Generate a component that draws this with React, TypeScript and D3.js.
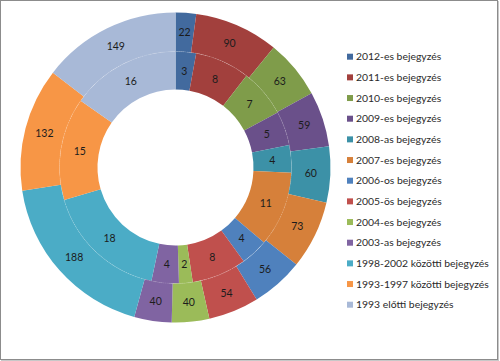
import React from 'react';
import * as d3 from 'd3';

const categories = [
  '2012-es bejegyzés',
  '2011-es bejegyzés',
  '2010-es bejegyzés',
  '2009-es bejegyzés',
  '2008-as bejegyzés',
  '2007-es bejegyzés',
  '2006-os bejegyzés',
  '2005-ös bejegyzés',
  '2004-es bejegyzés',
  '2003-as bejegyzés',
  '1998-2002 közötti bejegyzés',
  '1993-1997 közötti bejegyzés',
  '1993 előtti bejegyzés',
];
const innerValues = [3, 8, 7, 5, 4, 11, 4, 8, 2, 4, 18, 15, 16];
const outerValues = [22, 90, 63, 59, 60, 73, 56, 54, 40, 40, 188, 132, 149];
const colors = [
  '#426a9e', '#a2403d', '#7f9c4a', '#6a508a', '#3c91a7', '#d6803a',
  '#4f81bd', '#c0504d', '#9bbb59', '#8064a2', '#4bacc6', '#f79646', '#a8b9d7',
];

const W = 500;
const H = 361;
const cx = 175.5;
const cy = 167.5;
const r0 = 78;
const r1 = 116;
const r2 = 155;

const App = () => {
  const pie = d3.pie<number>().sort(null).value(d => d);
  const innerArcs = pie(innerValues);
  const outerArcs = pie(outerValues);
  const innerArc = d3.arc<d3.PieArcDatum<number>>().innerRadius(r0).outerRadius(r1);
  const outerArc = d3.arc<d3.PieArcDatum<number>>().innerRadius(r1).outerRadius(r2);

  // legend rows, evenly spaced
  const legendY = d3.scalePoint<string>().domain(categories).range([56.7, 304.7]);

  return (
    <div style={{ position: 'absolute', left: 0, top: 0 }}>
      <svg width={W} height={H} style={{ display: 'block' }}>
        <rect x={0} y={0} width={W} height={H} fill="#ffffff" />
        <rect x={0.5} y={0.5} width={497} height={359} fill="none" stroke="#8c8c8c" strokeWidth={1} />
        <line x1={498.5} y1={1} x2={498.5} y2={361} stroke="#c8c8c8" />
        <line x1={1} y1={360.5} x2={499} y2={360.5} stroke="#c8c8c8" />

        <g transform={`translate(${cx},${cy})`}>
          {innerArcs.map((a, i) => (
            <path key={'i' + i} d={innerArc(a) || ''} fill={colors[i]} />
          ))}
          {outerArcs.map((a, i) => (
            <path key={'o' + i} d={outerArc(a) || ''} fill={colors[i]} />
          ))}
          <circle r={r1} fill="none" stroke="#ffffff" strokeOpacity={0.25} strokeWidth={0.8} strokeDasharray="1 1" />
          {innerArcs.map((a, i) => {
            const [x, y] = innerArc.centroid(a);
            return (
              <text key={'ti' + i} x={x} y={y} dy="0.35em" textAnchor="middle"
                fontFamily="Lato, sans-serif" fontSize={10.5} fill="#1c1c1c">
                {a.data}
              </text>
            );
          })}
          {outerArcs.map((a, i) => {
            const [x, y] = outerArc.centroid(a);
            return (
              <text key={'to' + i} x={x} y={y} dy="0.35em" textAnchor="middle"
                fontFamily="Lato, sans-serif" fontSize={10.5} fill="#1c1c1c">
                {a.data}
              </text>
            );
          })}
        </g>

        <g>
          {categories.map((c, i) => {
            const y = legendY(c) as number;
            return (
              <g key={c}>
                <rect x={347} y={y - 3} width={6} height={6} fill={colors[i]} />
                <text x={356} y={y} dy="0.35em" fontFamily="Lato, sans-serif" fontSize={10.4} fill="#2a2a2a">
                  {c}
                </text>
              </g>
            );
          })}
        </g>
      </svg>
    </div>
  );
};

export default App;
